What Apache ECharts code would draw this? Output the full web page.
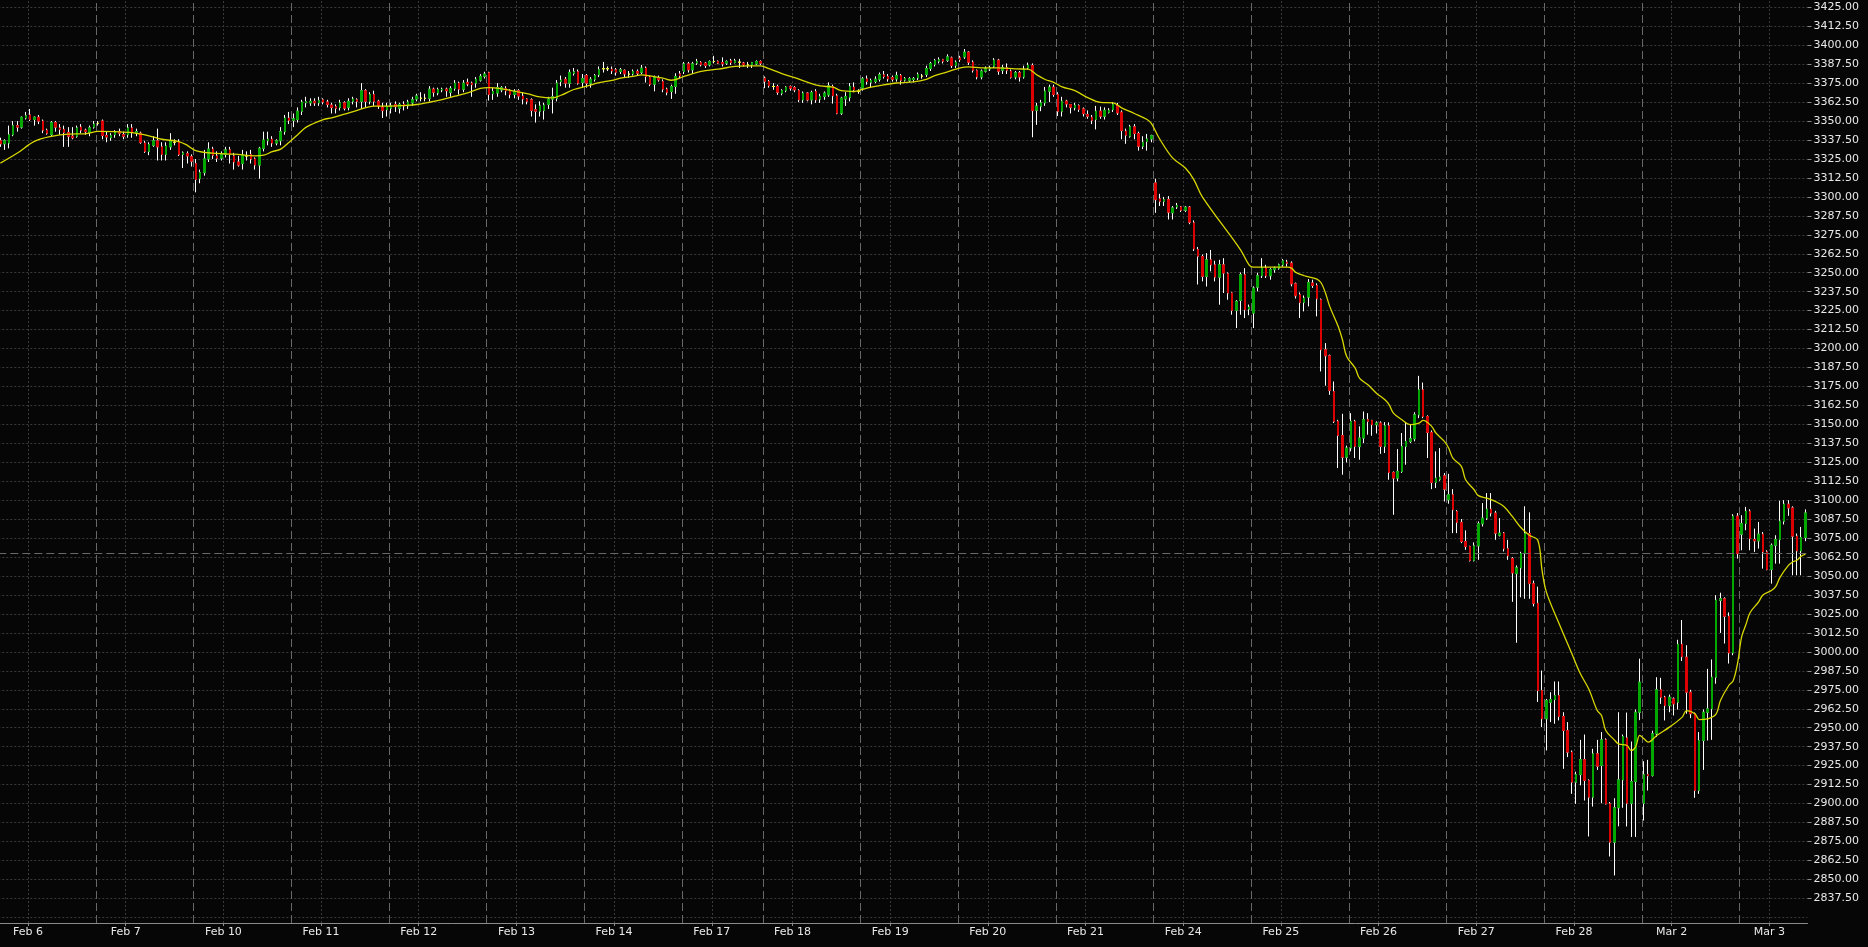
<!DOCTYPE html>
<html><head><meta charset="utf-8">
<script src="https://cdn.jsdelivr.net/npm/echarts@6/dist/echarts.min.js"></script>
<style>html,body{margin:0;padding:0;background:#060606;}#c{width:1868px;height:947px;}</style>
</head><body><div id="c"></div>
<script>
// ---- data ----
const dayLabels = ['Feb 6','Feb 7','Feb 10','Feb 11','Feb 12','Feb 13','Feb 14','Feb 17','Feb 18','Feb 19','Feb 20','Feb 21','Feb 24','Feb 25','Feb 26','Feb 27','Feb 28','Mar 2','Mar 3'];
const daySizes = [23,23,23,23,23,23,23,19,23,23,23,23,23,23,23,23,23,23,16];
const labelOffset = 7; // hourly bar at which each day label sits
const yMin = 2825, yMax = 3425, yStep = 12.5;
const refLine = 3065;

// hourly candles: [open, high, low, close]
const candles = [
// Feb 6
[3337,3339,3333,3335],[3335,3338,3331,3337],[3335.5,3347,3332,3341],[3341,3350,3340,3347],[3347,3350,3343,3346],[3346,3353,3345,3352.5],[3352,3356,3351,3353.5],[3354,3358,3350,3351],[3351,3353,3347,3352.5],[3352.5,3354,3348,3350],[3350,3351,3342,3344],[3344,3345,3341,3342],[3341,3350,3340,3349],[3349,3350,3343,3346],[3345.5,3348,3341,3344.5],[3344.5,3347,3333,3342.5],[3342.5,3346,3333,3340],[3340,3346,3338,3339],[3340,3347,3339,3345.5],[3346,3348,3342,3344],[3344,3345,3341,3343],[3342.5,3347,3340,3345.5],[3346,3350,3345,3348],
// Feb 7
[3348.5,3350,3347,3348.5],[3350,3351,3338,3340.5],[3340.5,3343,3336,3339.5],[3339,3342,3337,3340.5],[3341,3344,3339,3342.5],[3343,3345,3340,3342],[3341,3343,3338,3340],[3341,3348,3339,3345.5],[3345.5,3348,3339,3342.5],[3342,3345,3340,3343],[3342,3343,3335,3336],[3335.5,3337,3329,3330],[3330,3336,3327.5,3334.5],[3334,3340,3333,3337],[3337,3345,3324,3333],[3333,3336,3324,3328],[3328,3336,3324,3333.5],[3333,3342,3331,3336.5],[3336,3338,3334,3336],[3336.5,3338,3327,3328],[3328,3330,3319,3329],[3328.5,3330,3322,3327],[3326.5,3328,3320,3323.5],
// Feb 10
[3322,3325,3303,3311.5],[3312,3318,3309,3316],[3316,3331,3314,3325],[3325,3336,3323,3331.5],[3331.5,3333,3325,3327.5],[3327,3330,3323,3325.5],[3325.5,3330,3324,3328],[3328,3333,3326,3331],[3331,3333,3322,3328],[3327,3329,3318,3323],[3323,3327,3320,3321],[3322,3331,3318,3327.5],[3327,3330,3324,3327],[3328,3331,3322,3325],[3325,3326,3318,3321],[3321,3333,3312,3332],[3332,3343,3330,3337.5],[3337,3343,3334,3338],[3338,3340,3333,3335.5],[3335.5,3338,3334,3337],[3337,3346,3334,3343],[3343,3354,3341,3352],[3352,3356,3348,3350.5],
// Feb 11
[3350.5,3355,3346,3351.5],[3351,3359,3349,3356.5],[3356.5,3364,3354,3362.5],[3362,3366,3359,3362.8],[3362,3365,3360,3363],[3363,3365,3360,3362],[3362,3366,3360,3363.5],[3364,3365,3361,3362.5],[3362.5,3364,3359,3361],[3360.5,3362,3355,3359],[3359.5,3361,3355,3358.5],[3359,3364,3357,3362],[3362,3363,3357,3358.5],[3359,3365,3357,3363],[3363,3366,3361,3364.5],[3364,3365,3359,3363],[3363,3375,3358,3370],[3370,3371,3359,3363],[3363,3369,3361,3367.5],[3367.5,3370,3360,3363],[3363,3364,3358,3360],[3359,3362,3352,3357],[3357.5,3362,3353,3359.5],
// Feb 12
[3358.5,3362,3355,3360],[3361,3363,3356,3359.5],[3358.5,3362,3355,3361],[3361,3363,3357,3360],[3360,3364,3358,3362.5],[3362,3366,3360,3364],[3364.5,3368,3363,3366.5],[3365,3369,3363,3365],[3365,3368,3363,3365],[3365,3373,3363,3371],[3371,3372,3366,3369],[3368.5,3372,3367,3370.8],[3370.5,3372,3369,3371],[3371,3372,3366,3370],[3369,3373,3366,3371.5],[3371.5,3377,3370,3375],[3375,3376,3367.5,3371],[3371,3377,3369,3375],[3375.5,3378,3373,3374.5],[3375,3376,3366,3374],[3375,3379,3372,3377.5],[3377,3381,3376,3379.5],[3379.5,3382.5,3378,3381],
// Feb 13
[3381.8,3382.5,3363.5,3367.5],[3368,3372,3364,3369.5],[3368.5,3375,3366,3372],[3370.5,3373,3369,3372],[3371.5,3373,3367,3370],[3370,3371,3365,3367.5],[3367.5,3371,3365,3369.5],[3370,3371,3364,3366.5],[3366.5,3369,3361,3364.5],[3364.5,3365,3361,3363],[3364,3365,3353,3357],[3357.5,3361,3349,3356.5],[3356.5,3363,3353,3360],[3357,3362,3351,3360.5],[3361,3366,3358,3364.5],[3364.5,3372,3355,3366],[3365,3377,3363,3375],[3376,3380,3373,3377],[3377.5,3379,3372,3375],[3375,3384,3372,3382],[3381.5,3385,3380,3382.5],[3382.5,3384,3374,3375],[3375.5,3381,3372,3378],
// Feb 14
[3380,3381,3372,3375],[3375,3379,3372,3377.5],[3377.5,3381,3376,3380],[3380.5,3386,3379,3384],[3384.5,3389,3382,3384.5],[3384.5,3386,3383,3384.5],[3384.2,3386,3381,3383.1],[3383.8,3385,3380,3382.2],[3382.7,3385,3381,3383.8],[3383.4,3384,3379,3381.1],[3380.9,3383,3378.5,3380.9],[3381.1,3384,3380,3382.7],[3382.7,3384,3380,3381.6],[3382.2,3387,3381,3384.9],[3384.9,3386,3375.4,3379.4],[3379,3380,3373,3374.3],[3374.3,3380,3369.6,3378.5],[3378.3,3380,3376,3377.2],[3376.1,3377.5,3369,3371],[3371,3372,3367,3369],[3369.5,3374,3364.6,3372.8],[3372.8,3381.5,3368,3379.4],[3381.1,3383,3378,3379.8],
// Feb 17
[3382.7,3389,3381,3387.7],[3387.7,3389,3382,3383.8],[3383.8,3389,3381,3387.7],[3388.2,3391,3387,3389.3],[3388.6,3389.5,3386,3387.1],[3388.2,3389,3385,3386.6],[3387.1,3390,3386,3389.3],[3389.3,3393,3388,3389.3],[3389.3,3390,3387.5,3388.2],[3388.6,3392,3386,3387.7],[3388.2,3390,3387,3389.3],[3389.7,3391,3387,3388.6],[3388.6,3391,3388,3389.7],[3388.8,3391,3385,3388.8],[3388.2,3389,3386,3387.1],[3387.1,3389,3385,3387.1],[3387.1,3389,3385,3388.6],[3387.7,3390,3387,3389.3],[3389.3,3390,3387,3388.2],
// Feb 18
[3378.3,3379.4,3371.7,3376.1],[3376.1,3377,3372,3373.4],[3372.8,3375,3370.6,3372.8],[3372.8,3374,3367.3,3369],[3368.4,3371,3367,3370.1],[3370.1,3373,3369,3372.3],[3372.8,3373.5,3370,3371.7],[3372,3373,3369,3370.6],[3370.1,3371,3362.5,3364],[3364,3369.5,3362,3368.4],[3368.4,3369,3363,3364],[3364,3370,3361,3368.8],[3369.5,3371,3362,3364],[3364.5,3368,3362,3366.2],[3366.2,3369.5,3364,3368.4],[3367.3,3375.5,3366,3373.2],[3372.8,3374,3361.5,3366.6],[3366.6,3368,3354.5,3355.2],[3355.2,3366,3354,3365.1],[3364.6,3369,3360,3366.2],[3365.7,3375,3363,3372.8],[3372.3,3375.5,3369,3370.6],[3369.5,3371,3368,3369.5],
// Feb 19
[3371.7,3379,3370,3377.8],[3377.8,3380,3374,3376.1],[3375.6,3378,3372,3376.7],[3376.1,3379.5,3375,3377.6],[3377.6,3382,3376,3380.5],[3380.5,3383,3378,3379.4],[3379.4,3381,3376,3377.8],[3378.7,3380,3376,3377.6],[3377.8,3382.5,3376,3380.1],[3380,3381,3374,3376.9],[3377,3379,3376,3378],[3376.9,3379,3375.5,3378],[3377.4,3379,3375.5,3378],[3378.5,3382,3377,3380.7],[3379.6,3381,3378,3379.6],[3380.7,3386.5,3379,3384.6],[3384.6,3389,3383,3387.9],[3387.3,3391,3386,3389.9],[3389.5,3392,3388,3390.5],[3390.5,3391,3388,3389.5],[3390.1,3394,3389,3392.3],[3391.6,3392.5,3385,3386.6],[3386.6,3390,3385,3388.8],
// Feb 20
[3391.6,3393,3389,3390.5],[3392.3,3397.5,3391,3395.4],[3395.4,3396,3387,3388.8],[3388.8,3390,3382,3383.5],[3383.3,3384,3377.5,3379.1],[3379.1,3384,3377.5,3382.9],[3382.9,3386,3382,3384.4],[3384.4,3386.5,3383,3385.1],[3386.2,3391.5,3385,3390.1],[3390.1,3391,3380.5,3382.9],[3383.5,3387,3381,3385.1],[3385.1,3388,3381,3383.5],[3382.9,3384,3378,3378.9],[3379.1,3383,3377.5,3381.8],[3381.8,3383,3376,3379.1],[3379.1,3386.5,3378,3384],[3385.1,3388.5,3384,3386.8],[3386.6,3388,3339.3,3356.9],[3357.1,3362,3347.5,3359.8],[3359.8,3364,3356.5,3362],[3362,3372.5,3360,3369.7],[3369.7,3374,3362.5,3372.3],[3372.3,3374,3366,3367.5],
// Feb 21
[3367.5,3369,3353.3,3356.5],[3356.5,3366,3353,3363.1],[3363.1,3364,3359,3361.3],[3360.9,3361,3355,3359.1],[3358.7,3362,3357,3360.4],[3360.2,3361,3356,3357.6],[3358,3359,3353,3354.9],[3354.3,3357,3351.5,3353.2],[3352.5,3354,3348,3350.5],[3351,3360,3344.5,3356.5],[3356.5,3359.5,3351.5,3353.2],[3353.2,3359,3351,3357.1],[3355.8,3358.5,3355,3357.1],[3357.6,3362.5,3356,3360.9],[3360.2,3362,3354,3355.4],[3355.8,3357,3338,3343.7],[3343.3,3345,3335,3340.7],[3340,3347.5,3339,3346.2],[3346.2,3348,3338,3341.8],[3341.8,3343,3330.5,3333.4],[3333.4,3340,3331.5,3336],[3336.5,3341.5,3330.5,3338.2],[3338.2,3341,3336,3340.4],
// Feb 24
[3309.2,3311.9,3289.5,3298.2],[3298.7,3302,3294,3297.1],[3297.1,3300,3294,3298.2],[3298.2,3300.5,3285.1,3289.9],[3289.5,3294,3285.1,3292.7],[3293.4,3296,3292,3294.3],[3293.4,3294,3290,3291.2],[3291.2,3294,3290,3293.2],[3293.2,3294,3282,3283.3],[3282.9,3284.5,3264.3,3265.7],[3265.3,3267,3242.2,3260.9],[3260.7,3262,3244.3,3247.6],[3247.6,3262.9,3240.9,3258.5],[3258.5,3265,3250.9,3255.2],[3255.2,3257.9,3244.3,3247.1],[3247.1,3258.5,3228.9,3255.2],[3255.2,3259.6,3236.6,3249.8],[3249.3,3250.2,3232.2,3236.6],[3236.6,3237,3222.3,3225.1],[3225.1,3232,3213.5,3231.1],[3231.7,3250.2,3222.3,3248.7],[3248.7,3253,3220.1,3225.6],[3226,3229,3222,3227.3],
// Feb 25
[3223.4,3241,3213.5,3239.9],[3240.5,3250,3237.7,3248],[3248,3259.6,3246.5,3253],[3253,3255.2,3246.5,3248],[3248,3253,3245.4,3252],[3252,3254,3250,3253],[3253,3256,3252,3255.2],[3255.2,3259,3254,3257.9],[3257,3258.5,3254,3256.3],[3256.3,3257.5,3241,3242.7],[3242.7,3243.5,3233,3234.8],[3235.5,3237,3220.1,3230.4],[3230.4,3235,3224.5,3233.3],[3233.9,3245.8,3227.8,3243.6],[3243.2,3245.4,3240,3241.6],[3241.6,3243,3221.2,3232.8],[3232.2,3233,3184.9,3199.2],[3199.2,3203.6,3175.5,3195.2],[3195.2,3196,3169.5,3172.4],[3171.7,3178.3,3150.9,3152],[3152,3153,3121.2,3142.7],[3142.7,3157,3116.8,3128.4],[3128.4,3136,3124.9,3134.4],
// Feb 26
[3134.4,3157.4,3132.2,3152],[3152,3153,3127.8,3135.5],[3135.5,3148.7,3126.7,3141],[3141,3158.5,3137.7,3153.1],[3153.1,3157.4,3143.2,3152],[3152.6,3153,3142.5,3149.8],[3149.8,3152,3144,3150.9],[3150.9,3152,3130.6,3135.5],[3135.5,3151.5,3131.1,3149.1],[3149.1,3151.3,3113.5,3118.3],[3118.3,3119,3090.4,3114.6],[3114.6,3133.7,3112.4,3119],[3119,3144.3,3118,3135.5],[3135.5,3151.3,3123.4,3138.8],[3138.8,3149.8,3137.7,3140.5],[3140.5,3158,3138.8,3156.3],[3156.3,3182,3154.1,3172.8],[3172.8,3177.6,3154.1,3155.2],[3155.2,3156,3127.8,3144.7],[3144.7,3146,3107.3,3111.7],[3111.7,3132.2,3108,3114.6],[3113.9,3134.4,3112.8,3115.2],[3116.1,3117.9,3099.2,3107.3],
// Feb 27
[3100.3,3117.4,3097.7,3103.6],[3103.6,3107.3,3078.3,3093.7],[3092.6,3093.5,3078.3,3085.4],[3085.4,3087.6,3071.7,3072.8],[3072.8,3080.1,3067.3,3069.5],[3069.5,3070,3059.6,3060.3],[3060.3,3072.2,3059.6,3069.9],[3069.9,3086,3060.7,3084.5],[3084.5,3098.1,3082.7,3088.2],[3088.2,3104.7,3087,3094.1],[3094.1,3104.7,3089.3,3091.5],[3091.5,3093,3073.9,3078.3],[3077,3088.2,3076.1,3078.3],[3078.3,3079,3066.2,3068],[3068,3073.9,3060.7,3063.4],[3061.5,3062.5,3033,3052.1],[3051.6,3057,3006,3055.4],[3055.4,3066,3036,3064.8],[3064.8,3096,3035,3078],[3078,3092,3035,3045],[3045,3047,3030,3032],[3032,3043,2967,2974.5],[2974.5,2987.7,2950.4,2955.9],
// Feb 28
[2955.9,2969,2935,2967.9],[2966.8,2973.4,2953.7,2968.6],[2968.6,2980.5,2952.6,2971.2],[2971.2,2980.5,2954.8,2957.4],[2957.4,2960.2,2922.9,2948.2],[2948.2,2953.7,2930.6,2933.9],[2933.9,2935,2906.4,2914.1],[2914.1,2921,2899.8,2919.1],[2919.1,2942,2912,2929],[2929,2945.5,2902,2915.2],[2915.2,2916,2878.3,2904.2],[2904.2,2936.1,2898,2932.8],[2932.8,2942,2922.2,2924.6],[2925.1,2947.1,2900.2,2942],[2942,2943,2899.4,2899.8],[2899.8,2901,2865.1,2874.5],[2874.5,2903.5,2852.6,2897.2],[2897.2,2960.2,2885,2915.6],[2915.6,2945.5,2897.2,2944.2],[2943.3,2960,2884.9,2900.2],[2900.2,2940.9,2878,2914.5],[2914.5,2962,2878,2960.2],[2960.2,2995.5,2955,2980],
// Mar 2
[2900.2,2927.9,2888.8,2919.1],[2919.1,2928.8,2908.6,2918.3],[2918.5,2948,2917.8,2946],[2946,2983.3,2944,2975],[2975,2982.9,2965.7,2970.1],[2970.1,2971,2954.8,2964.6],[2964.6,2971.9,2960.2,2970.1],[2969,2970,2958.1,2965.7],[2966.8,3008,2962,3005],[3005,3021,2994,2996.8],[2996.5,3004.4,2959.2,2973.4],[2973.4,2975,2956.3,2959.2],[2959.2,2960,2903.8,2908.6],[2908.6,2947.1,2906.4,2941.6],[2941.6,2962,2922.2,2960.2],[2960.2,2988.8,2941.6,2962.4],[2962.4,2995,2942,2983.3],[2983.3,3037.4,2979,3034.1],[3034,3039,3012.5,3035],[3035,3036,3005.5,3023.5],[3023.5,3026,2992.3,2999.3],[2999.3,3090.8,2997.8,3089.5],[3089.5,3091.5,3061.5,3064.8],
// Mar 3
[3077.6,3090.1,3067,3084.6],[3084.6,3095.6,3080.2,3092.7],[3092.7,3094,3067,3074.7],[3074.1,3081.3,3065.9,3073.2],[3073.2,3085.7,3068.1,3077.6],[3077.6,3079,3054.9,3065.9],[3065.9,3067,3053.8,3054.3],[3054.3,3071.5,3045,3070.3],[3070.3,3076.9,3058.2,3074.1],[3074.1,3099.6,3058.2,3086.2],[3086.2,3100,3084,3097.4],[3097.4,3100,3089.7,3094.9],[3094.9,3096,3050.5,3076.3],[3076.3,3078,3050.5,3066.6],[3066.6,3082.4,3050.5,3075.4],[3075.4,3094,3073,3091.6]
];

// moving-average line: [bar index, value]
const maPoints = [
[0,3322.3],[4,3328.9],[8,3336.6],[12,3339.9],[16,3341.4],[20,3341.6],[23,3343.2],[27,3343],[31,3342.4],[35,3340.3],[38,3338],[42,3336.5],[44,3334],[46,3330.5],[50,3328.8],[55,3328.2],[60,3327.1],[62,3327.5],[64,3329.8],[66,3331.5],[68,3336],[70,3341],[72,3346],[76,3351],[78,3352.1],[81,3354.5],[84,3357.1],[88,3359.8],[92,3359.8],[95,3360.2],[98,3360.9],[101,3362.4],[104,3364.2],[107,3366.4],[110,3368.6],[113,3371.5],[115,3372],[118,3371.2],[121,3369.7],[124,3368.1],[127,3365.9],[130,3365.3],[132,3367],[135,3370.8],[138,3373],[141,3375.3],[144,3376.8],[146,3378.3],[149,3379.4],[151,3380.5],[153,3379.8],[156,3378.3],[158,3376.9],[161,3379.4],[165,3382.7],[169,3384.2],[173,3386],[176,3386.4],[179,3386.4],[181,3384.5],[184,3381.3],[187,3378.6],[190,3375.6],[193,3373.2],[196,3372.3],[198,3370],[201,3369.5],[202,3370.1],[205,3372.3],[208,3373.9],[211,3375.1],[215,3375.8],[218,3377.5],[220,3380],[223,3382.4],[226,3385.1],[228,3385.7],[231,3385.1],[235,3385.1],[239,3384.4],[242,3384.2],[244,3380.5],[246,3377.4],[248,3375.5],[250,3372.5],[253,3370],[256,3365.5],[259,3362.3],[262,3362],[264,3358.7],[267,3355],[270,3351],[271,3348.4],[273,3338],[276,3325.7],[279,3319],[281,3311.4],[283,3300],[292,3265.1],[294,3255.2],[295,3253.7],[303,3253.7],[304,3253],[305,3250.2],[307,3248],[310,3245.8],[311,3243.2],[312,3236.6],[313,3227.8],[315,3214.6],[316,3205.8],[317,3194.8],[319,3187.1],[320,3180.5],[322,3176.1],[324,3170.6],[326,3166.2],[327,3162.9],[328,3157.4],[330,3153],[332,3149.8],[334,3150.9],[335,3152.6],[337,3148.7],[338,3144.3],[340,3138.8],[341,3134.4],[342,3127.8],[344,3122.3],[345,3113.5],[347,3106.9],[348,3103],[350,3101.4],[352,3099.2],[354,3095.9],[356,3089.3],[358,3082],[360,3076.9],[362,3073.6],[363,3053.8],[364,3039.6],[367,3018.7],[370,2998.9],[372,2985.7],[374,2975.5],[376,2961.3],[377,2958.1],[378,2948.2],[380,2942],[381,2939.4],[383,2938.3],[384,2935],[385,2937.2],[386,2944.9],[387,2942.7],[388,2940.5],[390,2944.9],[393,2950.4],[396,2957],[397,2961.3],[399,2959.2],[400,2955.4],[402,2955.9],[404,2959.2],[405,2967.9],[407,2978],[408,2981],[409,2992],[410,3010],[411,3018],[412,3026],[414,3033],[415,3037.5],[417,3040.5],[418,3043],[419,3049],[421,3057],[422,3059.3],[423,3060.4],[424,3063],[425,3064.4]
];

// ---- build ----
const dayStarts = [];
const categories = [];
let acc = 0;
daySizes.forEach((n, d) => {
  dayStarts.push(acc);
  for (let h = 0; h < n; h++) categories.push(dayLabels[d] + ' #' + h);
  acc += n;
});
const total = acc;
if (candles.length !== total) console.error('candle count ' + candles.length + ' vs ' + total);
const labelPos = dayStarts.map(s => s + labelOffset);
const labelText = {};
labelPos.forEach((p, i) => { labelText[p] = dayLabels[i]; });

const wickData = candles.map(([o,h,l,c]) => [o, c, Math.min(l,o,c), Math.max(h,o,c)]);
const bodyData = candles.map(([o,h,l,c]) => [o, c, Math.min(o,c), Math.max(o,c)]);

const GL = -1.7, GR = 60.5;
const axisGray = '#8a8a8a';
const txt = '#e8e8e8';
const font = 'DejaVu Sans';

const sepLines = dayStarts.slice(1).map(v => ({xAxis: v, lineStyle: {color: '#686868', type: [8,4], width: 1}}));
const lblLines = labelPos.map(v => ({xAxis: v, lineStyle: {color: '#3a3a3a', type: [2,2], width: 1}}));

const chart = echarts.init(document.getElementById('c'), null, {renderer: 'canvas'});
chart.setOption({
  backgroundColor: '#060606',
  animation: false,
  grid: [
    {left: GL, right: GR, top: 7.3, bottom: 29.7, outerBoundsMode: 'none', containLabel: false},
    {left: GL, right: GR, top: 0, bottom: 24, outerBoundsMode: 'none', containLabel: false}
  ],
  xAxis: [
    {type: 'category', gridIndex: 0, data: categories, boundaryGap: true, show: false},
    {type: 'value', gridIndex: 1, min: 0, max: total,
      axisLine: {show: true, lineStyle: {color: axisGray, width: 1}},
      axisTick: {show: true, customValues: labelPos, length: 3, lineStyle: {color: axisGray}},
      axisLabel: {show: true, customValues: labelPos, formatter: v => labelText[v] || '', color: txt, fontFamily: font, fontSize: 11, margin: 4},
      splitLine: {show: false}}
  ],
  yAxis: [
    {type: 'value', gridIndex: 0, position: 'right', min: yMin, max: yMax, interval: yStep,
      axisLine: {show: false},
      axisTick: {show: true, length: 4, lineStyle: {color: axisGray}},
      axisLabel: {show: true, color: txt, fontFamily: font, fontSize: 11, margin: 6, showMinLabel: false, showMaxLabel: true,
        formatter: v => v.toFixed(2)},
      splitLine: {show: true, lineStyle: {color: '#3a3a3a', type: [2,2], width: 1}}},
    {type: 'value', gridIndex: 1, position: 'right', min: 0, max: 1,
      axisLine: {show: true, lineStyle: {color: axisGray, width: 1}},
      axisTick: {show: false}, axisLabel: {show: false}, splitLine: {show: false}}
  ],
  series: [
    {type: 'line', xAxisIndex: 1, yAxisIndex: 1, data: [[0, -1]], symbol: 'none', silent: true, z: 1,
      lineStyle: {opacity: 0},
      markLine: {silent: true, symbol: ['none','none'], label: {show: false}, animation: false,
        data: lblLines.concat(sepLines)}},
    {type: 'candlestick', xAxisIndex: 0, yAxisIndex: 0, data: wickData, barWidth: 2, large: false, z: 3, silent: true,
      itemStyle: {color: '#ffffff', color0: '#ffffff', borderColor: '#ffffff', borderColor0: '#ffffff', borderColorDoji: '#ffffff', borderWidth: 1}},
    {type: 'candlestick', xAxisIndex: 0, yAxisIndex: 0, data: bodyData, barWidth: 2, large: false, z: 4, silent: true,
      itemStyle: {color: '#00a800', color0: '#dd0000', borderColor: '#00a800', borderColor0: '#dd0000', borderColorDoji: '#ffff00', borderWidth: 1},
      markLine: {silent: true, symbol: ['none','none'], label: {show: false}, animation: false,
        lineStyle: {color: '#686868', type: [8,4], width: 1}, data: [{yAxis: refLine}]}},
    {type: 'line', xAxisIndex: 0, yAxisIndex: 0, data: maPoints, symbol: 'none', smooth: 0.35, z: 5, silent: true,
      lineStyle: {color: '#d8d800', width: 1.3}}
  ]
});
</script>
</body></html>
